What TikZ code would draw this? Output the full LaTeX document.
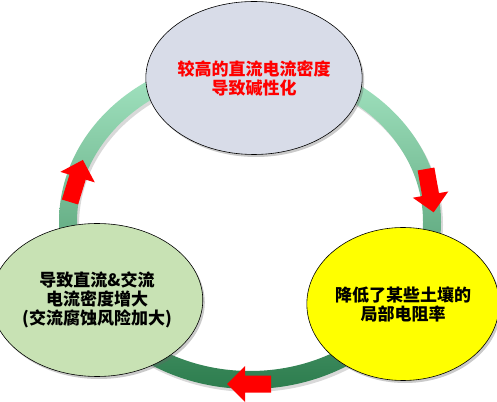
\documentclass[tikz,border=0pt]{standalone}
\usepackage{fontspec}
\newfontfamily\cjk{Noto Sans CJK SC}
\usetikzlibrary{shapes.geometric,shadows}
\definecolor{ringtop}{RGB}{168,232,198}
\definecolor{ringmid}{RGB}{128,208,162}
\definecolor{ringbot}{RGB}{45,125,78}
\definecolor{topfill}{RGB}{216,220,232}
\definecolor{leftfill}{RGB}{200,226,180}
\definecolor{rightfill}{RGB}{255,255,0}
\tikzset{
  bubble/.style={ellipse, draw=black, line width=0.6pt, inner sep=0pt,
    minimum width=175pt, minimum height=153pt, align=center,
    font=\cjk\bfseries\fontsize{17}{19}\selectfont,
    drop shadow={shadow xshift=2pt, shadow yshift=-2.5pt, opacity=0.35, fill=black!60}},
  flowarrow/.pic={\fill[red] (0,-8.5) -- (26,-8.5) -- (26,-18) -- (44,0) -- (26,18) -- (26,8.5) -- (0,8.5) -- cycle;}
}
\begin{document}
\begin{tikzpicture}[x=1pt,y=1pt]
\useasboundingbox (0,0) rectangle (497,401);
% ring shadow
\fill[black, opacity=0.15, even odd rule] (252,176) ellipse [x radius=191, y radius=167] (252,176) ellipse [x radius=173, y radius=149];
% ring
\shade[even odd rule, top color=ringtop, middle color=ringmid, bottom color=ringbot]
  (250,179) ellipse [x radius=191, y radius=167] (250,179) ellipse [x radius=173, y radius=149];
% arrows
\pic[rotate=-80] at (426,232) {flowarrow};
\pic[rotate=180] at (271,17) {flowarrow};
\pic[rotate=73] at (70,199) {flowarrow};
% bubbles
\node[bubble, fill=topfill, text=red] (ntop) at (254,323) {较高的直流电流密度\\导致碱性化};
\node[bubble, fill=leftfill, text=black] (nleft) at (97,101) {导致直流\&交流\\电流密度增大\\(交流腐蚀风险加大)};
\node[bubble, fill=rightfill, text=black] (nright) at (403,97) {降低了某些土壤的\\局部电阻率};
\end{tikzpicture}
\end{document}
